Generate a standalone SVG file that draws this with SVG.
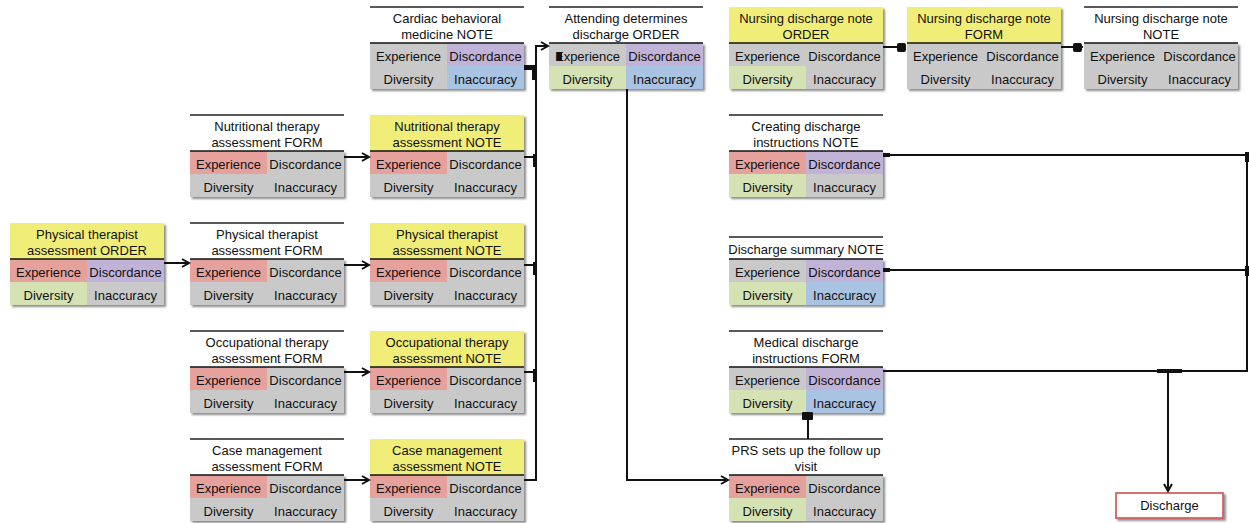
<svg xmlns="http://www.w3.org/2000/svg" width="1249" height="523" viewBox="0 0 1249 523">
<style>
.t{font-family:"Liberation Sans",Arial,sans-serif;font-size:13px;fill:#111;text-anchor:middle}
.y{fill:#F0EE78}.r{fill:#E6A19D}.p{fill:#C1B3D7}.g{fill:#D5E2B3}.b{fill:#A9C3E2}.n{fill:#C9C9C9}
.bg{fill:#C9C9C9;filter:url(#sh)}
.tl{stroke:#222;stroke-width:1.3}
.gl{stroke:#111;stroke-width:1.6}
.c{fill:none;stroke:#111;stroke-width:2}
.k{fill:#111}
</style>
<defs>
<filter id="sh" x="-5%" y="-10%" width="115%" height="130%"><feDropShadow dx="2" dy="2" stdDeviation="1.2" flood-color="#000" flood-opacity="0.45"/></filter>
<marker id="ar" markerWidth="10" markerHeight="10" refX="8" refY="5" orient="auto" markerUnits="userSpaceOnUse"><path d="M1,1 L8,5 L1,9" fill="none" stroke="#111" stroke-width="2"/></marker>
</defs>

<!-- Column A -->
<g id="pt-order" transform="translate(10,223)">
<rect x="0" y="0" width="154" height="82" class="bg"/>
<rect x="0" y="0" width="154" height="36" class="y"/>
<rect x="0" y="36" width="77" height="23" class="r"/><rect x="77" y="36" width="77" height="23" class="p"/>
<rect x="0" y="59" width="77" height="23" class="g"/><rect x="77" y="59" width="77" height="23" class="n"/>
<line x1="0" y1="36" x2="154" y2="36" class="gl"/>
<text class="t" x="77" y="16">Physical therapist</text><text class="t" x="77" y="32">assessment ORDER</text>
<text class="t" x="38.5" y="53.5">Experience</text><text class="t" x="115.5" y="53.5">Discordance</text>
<text class="t" x="38.5" y="76.5">Diversity</text><text class="t" x="115.5" y="76.5">Inaccuracy</text>
</g>

<!-- Column B -->
<g id="nt-form" transform="translate(190,115)">
<line x1="0" y1="0" x2="154" y2="0" class="tl"/>
<rect x="0" y="36" width="154" height="46" class="bg"/>
<rect x="0" y="36" width="77" height="23" class="r"/>
<line x1="0" y1="36" x2="154" y2="36" class="gl"/>
<text class="t" x="77" y="16">Nutritional therapy</text><text class="t" x="77" y="32">assessment FORM</text>
<text class="t" x="38.5" y="53.5">Experience</text><text class="t" x="115.5" y="53.5">Discordance</text>
<text class="t" x="38.5" y="76.5">Diversity</text><text class="t" x="115.5" y="76.5">Inaccuracy</text>
</g>
<g id="pt-form" transform="translate(190,223)">
<line x1="0" y1="0" x2="154" y2="0" class="tl"/>
<rect x="0" y="36" width="154" height="46" class="bg"/>
<rect x="0" y="36" width="77" height="23" class="r"/>
<line x1="0" y1="36" x2="154" y2="36" class="gl"/>
<text class="t" x="77" y="16">Physical therapist</text><text class="t" x="77" y="32">assessment FORM</text>
<text class="t" x="38.5" y="53.5">Experience</text><text class="t" x="115.5" y="53.5">Discordance</text>
<text class="t" x="38.5" y="76.5">Diversity</text><text class="t" x="115.5" y="76.5">Inaccuracy</text>
</g>
<g id="ot-form" transform="translate(190,331)">
<line x1="0" y1="0" x2="154" y2="0" class="tl"/>
<rect x="0" y="36" width="154" height="46" class="bg"/>
<rect x="0" y="36" width="77" height="23" class="r"/>
<line x1="0" y1="36" x2="154" y2="36" class="gl"/>
<text class="t" x="77" y="16">Occupational therapy</text><text class="t" x="77" y="32">assessment FORM</text>
<text class="t" x="38.5" y="53.5">Experience</text><text class="t" x="115.5" y="53.5">Discordance</text>
<text class="t" x="38.5" y="76.5">Diversity</text><text class="t" x="115.5" y="76.5">Inaccuracy</text>
</g>
<g id="cm-form" transform="translate(190,439)">
<line x1="0" y1="0" x2="154" y2="0" class="tl"/>
<rect x="0" y="36" width="154" height="46" class="bg"/>
<rect x="0" y="36" width="77" height="23" class="r"/>
<line x1="0" y1="36" x2="154" y2="36" class="gl"/>
<text class="t" x="77" y="16">Case management</text><text class="t" x="77" y="32">assessment FORM</text>
<text class="t" x="38.5" y="53.5">Experience</text><text class="t" x="115.5" y="53.5">Discordance</text>
<text class="t" x="38.5" y="76.5">Diversity</text><text class="t" x="115.5" y="76.5">Inaccuracy</text>
</g>

<!-- Column C -->
<g id="cbm-note" transform="translate(370,7)">
<line x1="0" y1="0" x2="154" y2="0" class="tl"/>
<rect x="0" y="36" width="154" height="46" class="bg"/>
<rect x="77" y="36" width="77" height="23" class="p"/><rect x="77" y="59" width="77" height="23" class="b"/>
<line x1="0" y1="36" x2="154" y2="36" class="gl"/>
<text class="t" x="77" y="16">Cardiac behavioral</text><text class="t" x="77" y="32">medicine NOTE</text>
<text class="t" x="38.5" y="53.5">Experience</text><text class="t" x="115.5" y="53.5">Discordance</text>
<text class="t" x="38.5" y="76.5">Diversity</text><text class="t" x="115.5" y="76.5">Inaccuracy</text>
</g>
<g id="nt-note" transform="translate(370,115)">
<rect x="0" y="0" width="154" height="82" class="bg"/>
<rect x="0" y="0" width="154" height="36" class="y"/>
<rect x="0" y="36" width="77" height="23" class="r"/>
<line x1="0" y1="36" x2="154" y2="36" class="gl"/>
<text class="t" x="77" y="16">Nutritional therapy</text><text class="t" x="77" y="32">assessment NOTE</text>
<text class="t" x="38.5" y="53.5">Experience</text><text class="t" x="115.5" y="53.5">Discordance</text>
<text class="t" x="38.5" y="76.5">Diversity</text><text class="t" x="115.5" y="76.5">Inaccuracy</text>
</g>
<g id="pt-note" transform="translate(370,223)">
<rect x="0" y="0" width="154" height="82" class="bg"/>
<rect x="0" y="0" width="154" height="36" class="y"/>
<rect x="0" y="36" width="77" height="23" class="r"/>
<line x1="0" y1="36" x2="154" y2="36" class="gl"/>
<text class="t" x="77" y="16">Physical therapist</text><text class="t" x="77" y="32">assessment NOTE</text>
<text class="t" x="38.5" y="53.5">Experience</text><text class="t" x="115.5" y="53.5">Discordance</text>
<text class="t" x="38.5" y="76.5">Diversity</text><text class="t" x="115.5" y="76.5">Inaccuracy</text>
</g>
<g id="ot-note" transform="translate(370,331)">
<rect x="0" y="0" width="154" height="82" class="bg"/>
<rect x="0" y="0" width="154" height="36" class="y"/>
<rect x="0" y="36" width="77" height="23" class="r"/>
<line x1="0" y1="36" x2="154" y2="36" class="gl"/>
<text class="t" x="77" y="16">Occupational therapy</text><text class="t" x="77" y="32">assessment NOTE</text>
<text class="t" x="38.5" y="53.5">Experience</text><text class="t" x="115.5" y="53.5">Discordance</text>
<text class="t" x="38.5" y="76.5">Diversity</text><text class="t" x="115.5" y="76.5">Inaccuracy</text>
</g>
<g id="cm-note" transform="translate(370,439)">
<rect x="0" y="0" width="154" height="82" class="bg"/>
<rect x="0" y="0" width="154" height="36" class="y"/>
<rect x="0" y="36" width="77" height="23" class="r"/>
<line x1="0" y1="36" x2="154" y2="36" class="gl"/>
<text class="t" x="77" y="16">Case management</text><text class="t" x="77" y="32">assessment NOTE</text>
<text class="t" x="38.5" y="53.5">Experience</text><text class="t" x="115.5" y="53.5">Discordance</text>
<text class="t" x="38.5" y="76.5">Diversity</text><text class="t" x="115.5" y="76.5">Inaccuracy</text>
</g>

<!-- Column D -->
<g id="attending-order" transform="translate(549,7)">
<line x1="0" y1="0" x2="154" y2="0" class="tl"/>
<rect x="0" y="36" width="154" height="46" class="bg"/>
<rect x="77" y="36" width="77" height="23" class="p"/>
<rect x="0" y="59" width="77" height="23" class="g"/><rect x="77" y="59" width="77" height="23" class="b"/>
<line x1="0" y1="36" x2="154" y2="36" class="gl"/>
<text class="t" x="77" y="16">Attending determines</text><text class="t" x="77" y="32">discharge ORDER</text>
<text class="t" x="38.5" y="53.5">Experience</text><text class="t" x="115.5" y="53.5">Discordance</text>
<text class="t" x="38.5" y="76.5">Diversity</text><text class="t" x="115.5" y="76.5">Inaccuracy</text>
</g>

<!-- Column E -->
<g id="nurse-order" transform="translate(729,7)">
<rect x="0" y="0" width="154" height="82" class="bg"/>
<rect x="0" y="0" width="154" height="36" class="y"/>
<rect x="0" y="59" width="77" height="23" class="g"/>
<line x1="0" y1="36" x2="154" y2="36" class="gl"/>
<text class="t" x="77" y="16">Nursing discharge note</text><text class="t" x="77" y="32">ORDER</text>
<text class="t" x="38.5" y="53.5">Experience</text><text class="t" x="115.5" y="53.5">Discordance</text>
<text class="t" x="38.5" y="76.5">Diversity</text><text class="t" x="115.5" y="76.5">Inaccuracy</text>
</g>
<g id="creating-note" transform="translate(729,115)">
<line x1="0" y1="0" x2="154" y2="0" class="tl"/>
<rect x="0" y="36" width="154" height="46" class="bg"/>
<rect x="0" y="36" width="77" height="23" class="r"/><rect x="77" y="36" width="77" height="23" class="p"/>
<rect x="0" y="59" width="77" height="23" class="g"/>
<line x1="0" y1="36" x2="154" y2="36" class="gl"/>
<text class="t" x="77" y="16">Creating discharge</text><text class="t" x="77" y="32">instructions NOTE</text>
<text class="t" x="38.5" y="53.5">Experience</text><text class="t" x="115.5" y="53.5">Discordance</text>
<text class="t" x="38.5" y="76.5">Diversity</text><text class="t" x="115.5" y="76.5">Inaccuracy</text>
</g>
<g id="summary-note" transform="translate(729,223)">
<line x1="0" y1="14" x2="154" y2="14" class="tl"/>
<rect x="0" y="36" width="154" height="46" class="bg"/>
<rect x="77" y="36" width="77" height="23" class="p"/>
<rect x="0" y="59" width="77" height="23" class="g"/><rect x="77" y="59" width="77" height="23" class="b"/>
<line x1="0" y1="36" x2="154" y2="36" class="gl"/>
<text class="t" x="77" y="30.5">Discharge summary NOTE</text>
<text class="t" x="38.5" y="53.5">Experience</text><text class="t" x="115.5" y="53.5">Discordance</text>
<text class="t" x="38.5" y="76.5">Diversity</text><text class="t" x="115.5" y="76.5">Inaccuracy</text>
</g>
<g id="medical-form" transform="translate(729,331)">
<line x1="0" y1="0" x2="154" y2="0" class="tl"/>
<rect x="0" y="36" width="154" height="46" class="bg"/>
<rect x="77" y="36" width="77" height="23" class="p"/>
<rect x="0" y="59" width="77" height="23" class="g"/><rect x="77" y="59" width="77" height="23" class="b"/>
<line x1="0" y1="36" x2="154" y2="36" class="gl"/>
<text class="t" x="77" y="16">Medical discharge</text><text class="t" x="77" y="32">instructions FORM</text>
<text class="t" x="38.5" y="53.5">Experience</text><text class="t" x="115.5" y="53.5">Discordance</text>
<text class="t" x="38.5" y="76.5">Diversity</text><text class="t" x="115.5" y="76.5">Inaccuracy</text>
</g>
<g id="prs-visit" transform="translate(729,439)">
<line x1="0" y1="0" x2="154" y2="0" class="tl"/>
<rect x="0" y="36" width="154" height="46" class="bg"/>
<rect x="0" y="36" width="77" height="23" class="r"/>
<rect x="0" y="59" width="77" height="23" class="g"/>
<line x1="0" y1="36" x2="154" y2="36" class="gl"/>
<text class="t" x="77" y="16">PRS sets up the follow up</text><text class="t" x="77" y="32">visit</text>
<text class="t" x="38.5" y="53.5">Experience</text><text class="t" x="115.5" y="53.5">Discordance</text>
<text class="t" x="38.5" y="76.5">Diversity</text><text class="t" x="115.5" y="76.5">Inaccuracy</text>
</g>

<!-- Column F -->
<g id="nurse-form" transform="translate(907,7)">
<rect x="0" y="0" width="154" height="82" class="bg"/>
<rect x="0" y="0" width="154" height="36" class="y"/>
<line x1="0" y1="36" x2="154" y2="36" class="gl"/>
<text class="t" x="77" y="16">Nursing discharge note</text><text class="t" x="77" y="32">FORM</text>
<text class="t" x="38.5" y="53.5">Experience</text><text class="t" x="115.5" y="53.5">Discordance</text>
<text class="t" x="38.5" y="76.5">Diversity</text><text class="t" x="115.5" y="76.5">Inaccuracy</text>
</g>

<!-- Column G -->
<g id="nurse-note" transform="translate(1084,7)">
<line x1="0" y1="0" x2="154" y2="0" class="tl"/>
<rect x="0" y="36" width="154" height="46" class="bg"/>
<line x1="0" y1="36" x2="154" y2="36" class="gl"/>
<text class="t" x="77" y="16">Nursing discharge note</text><text class="t" x="77" y="32">NOTE</text>
<text class="t" x="38.5" y="53.5">Experience</text><text class="t" x="115.5" y="53.5">Discordance</text>
<text class="t" x="38.5" y="76.5">Diversity</text><text class="t" x="115.5" y="76.5">Inaccuracy</text>
</g>

<g id="discharge">
<rect x="1116" y="493" width="107" height="25" fill="#fff" stroke="#D06262" stroke-width="1.8" filter="url(#sh)"/>
<text class="t" x="1169.5" y="510">Discharge</text>
</g>

<g id="connectors">
<path class="c" d="M164,263 H189" marker-end="url(#ar)"/>
<path class="c" d="M344,157 H369" marker-end="url(#ar)"/>
<path class="c" d="M344,265 H369" marker-end="url(#ar)"/>
<path class="c" d="M344,372 H369" marker-end="url(#ar)"/>
<path class="c" d="M344,480 H369" marker-end="url(#ar)"/>
<path class="c" d="M524,68 H536"/>
<path class="c" d="M524,157 H536"/>
<path class="c" d="M524,265 H536"/>
<path class="c" d="M524,372 H536"/>
<path class="c" d="M524,480 H536 V46 H548" marker-end="url(#ar)"/>
<rect class="k" x="524" y="65" width="13" height="5"/>
<rect class="k" x="532" y="65" width="5" height="15"/>
<rect class="k" x="533" y="154" width="4" height="13"/>
<rect class="k" x="533" y="262" width="4" height="13"/>
<rect class="k" x="533" y="369" width="4" height="13"/>
<rect class="k" x="557" y="52" width="5" height="8"/>
<path class="c" d="M627,89 V480 H728" marker-end="url(#ar)"/>
<path class="c" d="M883,47 H906"/>
<rect class="k" x="897" y="43" width="9" height="9" rx="2"/>
<path class="c" d="M1061,47 H1083"/>
<rect class="k" x="1073" y="43" width="9" height="9" rx="2"/>
<path class="c" d="M883,155 H1247 V371 H883"/>
<path class="c" d="M883,270 H1247"/>
<rect class="k" x="883" y="153" width="7" height="4"/>
<rect class="k" x="883" y="268" width="7" height="4"/>
<rect class="k" x="1245" y="152" width="4" height="10"/>
<rect class="k" x="1245" y="266" width="4" height="10"/>
<rect class="k" x="1157" y="369" width="25" height="4"/>
<path class="c" d="M1168,371 V491" marker-end="url(#ar)"/>
<path class="c" d="M808,439 V416"/>
<rect class="k" x="802" y="412" width="11" height="8" rx="1"/>
</g>
</svg>
